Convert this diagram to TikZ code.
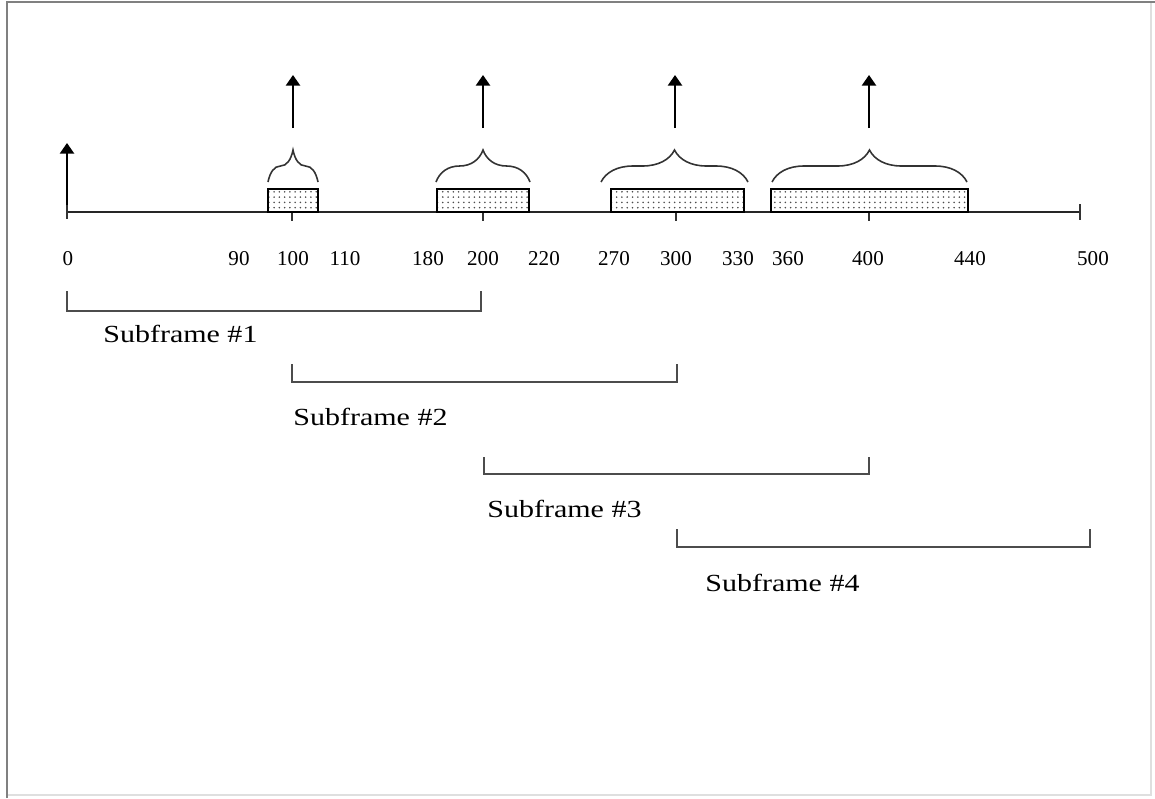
\documentclass[tikz,border=0pt]{standalone}
\usepackage{fontspec}
\setmainfont{Liberation Serif}
\newfontfamily\wideserif[FakeStretch=1.22]{Liberation Serif}
\usetikzlibrary{arrows.meta, decorations.pathreplacing, patterns}

\begin{document}
\begin{tikzpicture}[
  x=0.02cm, y=-0.02cm,
  axisline/.style={line width=1.1pt, black!85},
  smalltick/.style={line width=0.9pt, black!80},
  slot/.style={draw, line width=1pt, pattern=dots, pattern color=black!70},
  grp/.style={decorate, decoration={brace, amplitude=0.64cm},
              line width=0.9pt, black!80},
  sig/.style={-{Triangle[width=8pt,length=6pt]}, line width=1.1pt},
  frm/.style={line width=1pt, black!70},
  num/.style={font=\fontsize{12}{14}\selectfont, inner sep=0pt},
  lbl/.style={font=\wideserif\fontsize{14}{16}\selectfont,
              anchor=base west, inner sep=0pt}
]
  % canvas and frame
  \fill[white] (0,0) rectangle (1155,798);
  \useasboundingbox (0,0) rectangle (1155,798);
  \draw[gray!25, line width=1pt] (1151,2) -- (1151,795) -- (7,795);
  \draw[gray, line width=1.5pt] (7,798) -- (7,2) -- (1155,2);

  % time axis
  \coordinate (t0) at (67,212);
  \coordinate (t500) at (1080,212);
  \draw[axisline] (t0) -- (t500);
  \draw[smalltick] (67,205) -- (67,219);
  \draw[smalltick] (1080,204) -- (1080,220);
  \foreach \x in {292,483,676,869}
    \draw[smalltick] (\x,212) -- (\x,221);

  % arrival at 0
  \coordinate (a0) at (67,205);
  \coordinate (h0) at (67,143);
  \draw[sig] (a0) -- (h0);

  % transmission slots, braces and arrivals
  \foreach \l/\r/\bl/\br/\m [count=\i] in
      {268/318/268/318/293, 437/529/436/530/483,
       611/744/601/748/675, 771/968/772/967/869}{
    \draw[slot] (\l,189) rectangle (\r,212);
    \draw[grp] (\bl,182) -- (\br,182);
    \coordinate (a\i) at (\m,128);
    \coordinate (h\i) at (\m,75);
    \draw[sig] (a\i) -- (h\i);
  }

  % time values
  \foreach \x/\v in {68/0, 239/90, 293/100, 345/110, 428/180, 483/200,
                     544/220, 614/270, 676/300, 738/330, 788/360,
                     868/400, 970/440, 1093/500}
    \node[num] (n\v) at (\x,259) {\v};

  % subframes
  \foreach \l/\r/\top/\bot/\tx/\ty [count=\i] in
      {67/481/291/311/103/342, 292/677/364/382/293/425,
       484/869/457/474/487/517, 677/1090/529/547/705/591}{
    \coordinate (s\i a) at (\l,\top);
    \coordinate (s\i b) at (\r,\top);
    \draw[frm] (s\i a) -- (\l,\bot) -- (\r,\bot) -- (s\i b);
    \node[lbl] (sf\i) at (\tx,\ty) {Subframe \#\i};
  }
\end{tikzpicture}
\end{document}
